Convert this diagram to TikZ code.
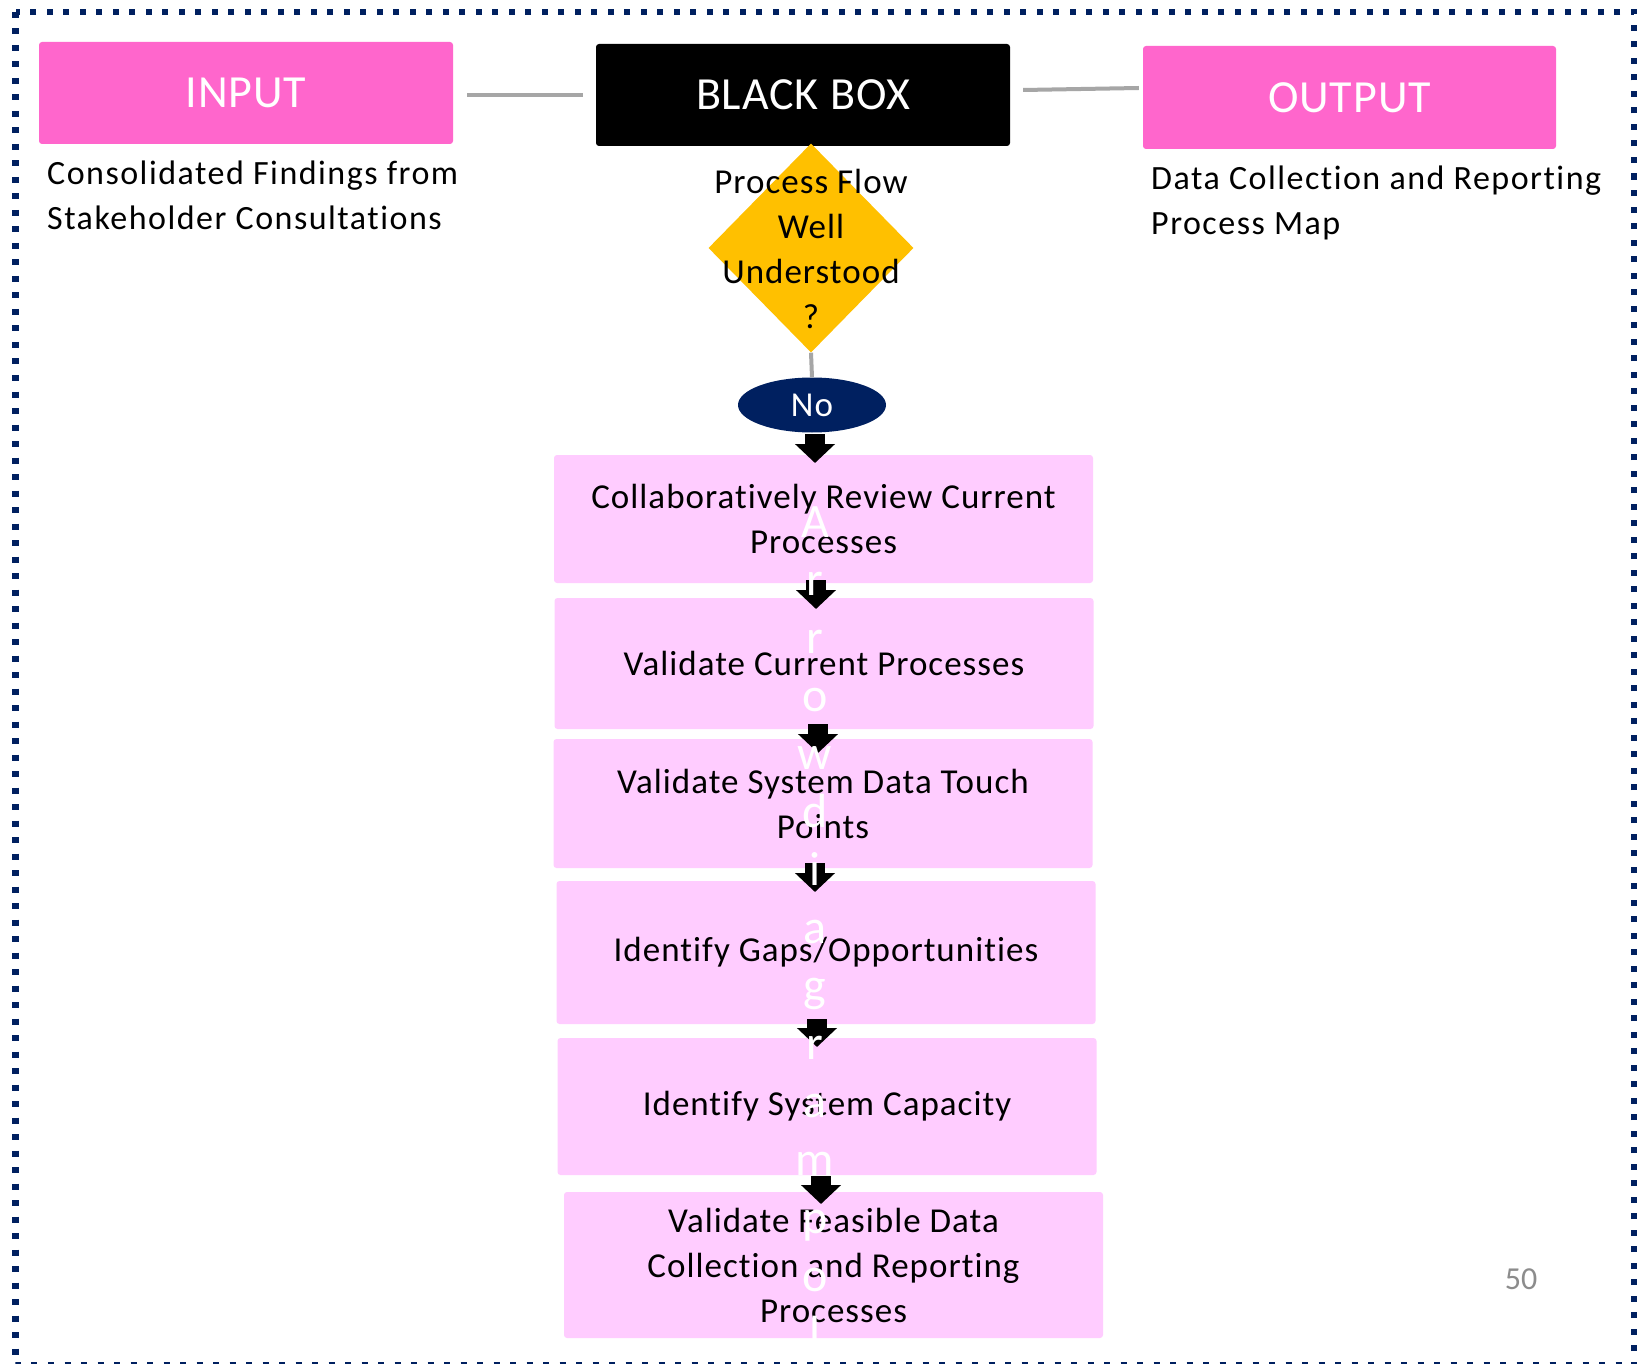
\documentclass[tikz,border=0pt]{standalone}
\usepackage{fontspec}
\setmainfont{Carlito}[Ligatures=NoCommon]
\newfontfamily\capf{Carlito}[LetterSpace=4.4,Ligatures=NoCommon]
\newfontfamily\bodyf{Carlito}[LetterSpace=2.9,Ligatures=NoCommon]
\newfontfamily\titlef{Carlito}[LetterSpace=2,Ligatures=NoCommon]
\usetikzlibrary{shapes.geometric,arrows.meta}
\definecolor{navy}{HTML}{002060}
\definecolor{hotpink}{HTML}{FF66CC}
\definecolor{lightpink}{HTML}{FFCCFF}
\definecolor{amber}{HTML}{FFC000}
\definecolor{connGray}{HTML}{A6A6A6}
\definecolor{numGray}{HTML}{8C8C8C}
\begin{document}
\begin{tikzpicture}[x=1pt,y=-1pt,
  bodyfont/.style={font=\bodyf\fontsize{35}{45}\selectfont},
  titlebox/.style={rounded corners=3pt, minimum width=414pt, minimum height=102pt, inner sep=0pt, text=white, font=\titlef\fontsize{46}{52}\selectfont},
  stepbox/.style={fill=lightpink, rounded corners=3pt, minimum width=539pt, inner sep=0pt, align=center, bodyfont},
  captxt/.style={anchor=base west, inner sep=0pt, font=\capf\fontsize{34}{45}\selectfont},
  conn/.style={draw=connGray, line width=4pt},
  blk/.style={line width=20pt, black, -{Triangle[width=39pt,length=19pt]}},
  letter/.style={anchor=base, text=white, inner sep=0pt, font=\fontsize{48}{58}\selectfont},
]
\useasboundingbox (0,0) rectangle (1639,1364);
\fill[white] (0,0) rectangle (1639,1364);
\draw[navy, line width=6.5pt, dash pattern=on 6pt off 10.5pt] (15.5,12) rectangle (1634,1365.5);

% top row
\node[titlebox, fill=hotpink] (inp) at (246,93) {INPUT};
\node[titlebox, fill=black] (bb) at (803,95) {BLACK BOX};
\node[titlebox, fill=hotpink, minimum width=413pt, minimum height=103pt] (out) at (1349.5,97.5) {OUTPUT};
\draw[conn] ([xshift=14pt,yshift=-2pt]inp.east) -- ([xshift=-13pt]bb.west);
\draw[conn] ([xshift=13pt,yshift=5pt]bb.east) -- ([xshift=-4pt,yshift=9.5pt]out.west);

\node[captxt] (inc1) at (47,185) {Consolidated Findings from};
\node[captxt] (inc2) at (47,230) {Stakeholder Consultations};
\node[captxt] (outc1) at (1151,190) {Data Collection and Reporting};
\node[captxt] (outc2) at (1151,235) {Process Map};

% decision
\node[diamond, fill=amber, minimum width=205pt, minimum height=209pt, inner sep=0pt] (q) at (811,248) {};
\node[align=center, bodyfont, inner sep=0pt] (qt) at (811,249) {Process Flow\\Well\\Understood\\?};
\node[ellipse, fill=navy, minimum width=148pt, minimum height=55pt, inner sep=0pt, text=white, bodyfont] (no) at (812,405) {No};
\draw[conn] (q.south) -- (no.north);

% steps
\node[stepbox, minimum height=128pt] (s1) at (823.5,519) {Collaboratively Review Current\\Processes};
\node[stepbox, minimum height=131pt] (s2) at (824,663.5) {Validate Current Processes};
\node[stepbox, minimum height=129pt] (s3) at (823,803.5) {Validate System Data Touch\\Points};
\node[stepbox, minimum height=143pt] (s4) at (826,952.5) {Identify Gaps/Opportunities};
\node[stepbox, minimum height=137pt] (s5) at (827,1106.5) {Identify System Capacity};
\node[stepbox, minimum height=146pt] (s6) at (833.5,1265) {Validate Feasible Data\\Collection and Reporting\\Processes};

% block arrows
\draw[blk] (815,434) -- (815,463);
\draw[blk] (816,580) -- (816,609);
\draw[blk] (818,724) -- (818,753);
\draw[blk] (815,863) -- (815,892);
\draw[blk] (817,1019) -- (817,1047);
\draw[blk] (821,1176) -- (821,1204);

% page number
\node[font=\fontsize{32}{38}\selectfont, text=numGray, anchor=base, inner sep=0pt] (pg) at (1521,1289) {50};

% stacked white letters
\foreach \c [count=\i from 0] in {A,r,r,o,w,d,i,a,g,r,a,m,p,o,l}
  \node[letter] (wl\i) at (815,537+58*\i) {\c};
\end{tikzpicture}
\end{document}
